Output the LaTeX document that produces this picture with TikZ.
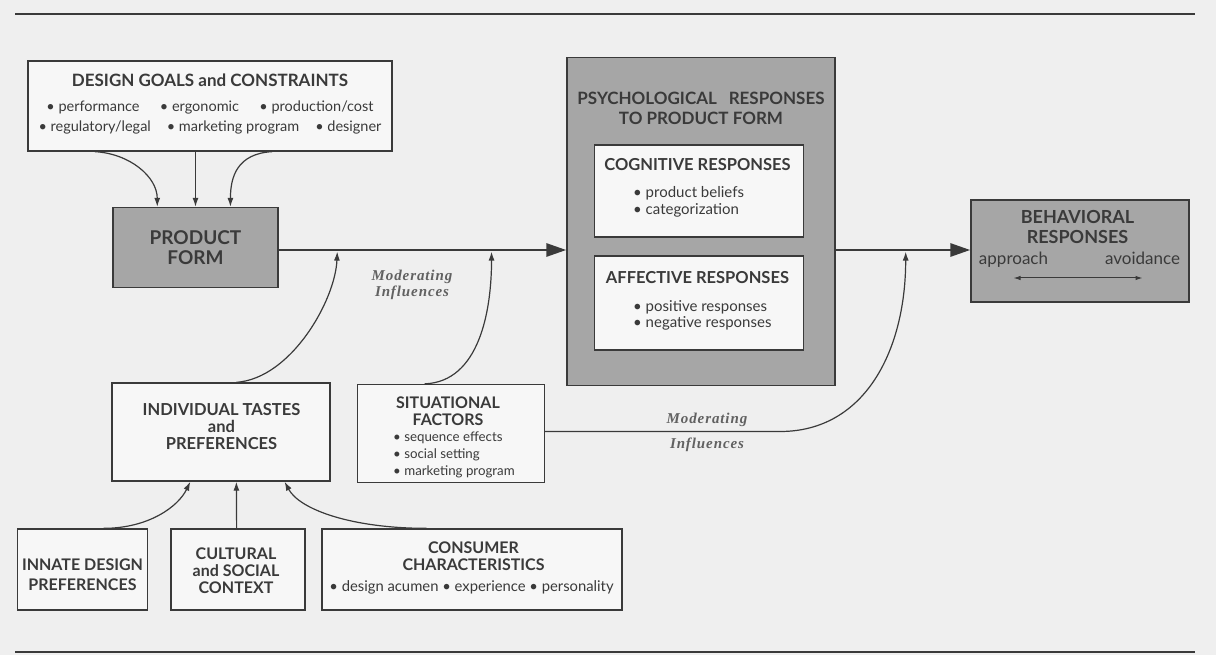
\documentclass[tikz,border=0pt]{standalone}
\usepackage{fontspec}
\setmainfont{Lato}
\newfontfamily\modserif[LetterSpace=6]{Liberation Serif}
\usetikzlibrary{arrows.meta,calc}

\definecolor{paper}{HTML}{EFEFEF}
\definecolor{ink}{HTML}{3A3A3A}
\definecolor{shade}{HTML}{A6A6A6}
\definecolor{pale}{HTML}{F7F7F7}

% type sizes: \sz{size}{baselineskip}
\newcommand\sz[2]{\fontsize{#1}{#2}\selectfont}
\newcommand\modtxt{\modserif\bfseries\itshape\sz{15}{17}}

\tikzset{
  box/.style={draw=ink, line width=1.3pt, inner sep=0pt},
  palebox/.style={box, fill=pale},
  shadebox/.style={box, fill=shade},
  txt/.style={text=ink, inner sep=0pt, align=center},
  ltxt/.style={text=ink, inner sep=0pt, align=left},
  flow/.style={draw=ink, line width=2.8pt, -{Triangle[length=20pt,width=13pt]}},
  link/.style={draw=ink, line width=1.2pt, -{Latex[length=9pt,width=6pt]}},
  twoway/.style={draw=ink, line width=1pt, {Latex[length=7pt,width=4.5pt]}-{Latex[length=7pt,width=4.5pt]}},
  rule/.style={draw=ink, line width=2.5pt},
  modlabel/.style={text=ink!80, font=\modtxt, align=center, inner sep=0pt},
}

\begin{document}
\begin{tikzpicture}[x=1pt,y=-1pt]
\useasboundingbox[fill=paper] (0,0) rectangle (1216,655);

% page rules
\coordinate (topL) at (15,14);   \coordinate (topR) at (1195,14);
\coordinate (botL) at (15,652);  \coordinate (botR) at (1195,652);
\draw[rule] (topL) -- (topR);
\draw[rule] (botL) -- (botR);

% design goals and constraints
\node[palebox, minimum width=364pt, minimum height=90pt] (goals) at (210,106) {};
\node[txt, anchor=north, font=\sz{14.5}{20}] (goalsText) at (210,73.5)
  {{\sz{17}{20}\bfseries DESIGN GOALS and CONSTRAINTS}\\[4.7pt]
   • performance\hspace{1.4em}• ergonomic\hspace{1.4em}• production/cost\\
   • regulatory/legal\hspace{1.1em}• marketing program\hspace{1.1em}• designer};

% product form
\node[shadebox, minimum width=165pt, minimum height=80pt, txt, font=\sz{19}{20}\bfseries]
  (pf) at (195.5,247.5) {PRODUCT\\FORM};

% psychological responses
\node[shadebox, minimum width=268pt, minimum height=328pt] (psych) at (701,221.5) {};
\node[txt, anchor=north, font=\sz{17}{20}\bfseries] (psychTitle) at (701,92)
  {PSYCHOLOGICAL\hspace{0.7em}RESPONSES\\TO PRODUCT FORM};

\node[palebox, minimum width=209pt, minimum height=92pt] (cog) at (699,191) {};
\node[txt, anchor=base, font=\sz{16.5}{17}\bfseries] (cogTitle) at (697.5,170.9)
  {COGNITIVE RESPONSES};
\node[ltxt, anchor=north west, font=\sz{15}{17}] (cogItems) at (633,185.8)
  {• product beliefs\\• categorization};

\node[palebox, minimum width=209pt, minimum height=94pt] (aff) at (699,303) {};
\node[txt, anchor=base, font=\sz{16.5}{17}\bfseries] (affTitle) at (697.5,283.9)
  {AFFECTIVE RESPONSES};
\node[ltxt, anchor=north west, font=\sz{15}{16}] (affItems) at (633,300.8)
  {• positive responses\\• negative responses};

% behavioral responses
\node[shadebox, minimum width=218pt, minimum height=102pt] (beh) at (1080,251) {};
\node[txt, anchor=north, font=\sz{18}{20}\bfseries] (behTitle) at (1077.5,210)
  {BEHAVIORAL\\RESPONSES};
\node[txt, anchor=base, font=\sz{17}{20}] (appr) at (1013.5,264.3) {approach};
\node[txt, anchor=base, font=\sz{17}{20}] (avoid) at (1142.5,264.3) {avoidance};
\draw[twoway] ([yshift=-13.7pt]appr.base) -- ([yshift=-13.7pt]avoid.base);

% individual tastes and situational factors
\node[palebox, minimum width=218pt, minimum height=98pt] (tastes) at (221,432) {};
\node[txt, anchor=north, font=\sz{16.5}{17}\bfseries] (tastesText) at (221.5,403)
  {INDIVIDUAL TASTES\\and\\PREFERENCES};

\node[palebox, minimum width=187pt, minimum height=98pt] (situ) at (451,433.5) {};
\node[txt, anchor=north, font=\sz{16}{17}\bfseries] (situTitle) at (448,396.7)
  {SITUATIONAL\\FACTORS};
\node[ltxt, anchor=north west, font=\sz{13.3}{17}] (situItems) at (393,431.6)
  {• sequence effects\\• social setting\\• marketing program};

% origins of individual tastes
\node[palebox, minimum width=130pt, minimum height=81pt] (innate) at (82.5,569.5) {};
\node[txt, anchor=north, font=\sz{16}{20}\bfseries] (innateText) at (82.5,558.2)
  {INNATE DESIGN\\PREFERENCES};

\node[palebox, minimum width=134pt, minimum height=81pt] (cultural) at (238,569.5) {};
\node[txt, anchor=north, font=\sz{16}{17}\bfseries] (culturalText) at (236,547.2)
  {CULTURAL\\and SOCIAL\\CONTEXT};

\node[palebox, minimum width=300pt, minimum height=81pt] (consumer) at (472,569.5) {};
\node[txt, anchor=north, font=\sz{16}{17}\bfseries] (consumerTitle) at (473.5,541.2)
  {CONSUMER\\CHARACTERISTICS};
\node[txt, anchor=base, font=\sz{14.8}{17}] (consumerItems) at (471.5,591.9)
  {• design acumen • experience • personality};

% labels for the moderating paths
\node[modlabel] (mod1) at (412,284.5) {Moderating\\[-1pt]Influences};
\node[modlabel] (mod2) at (707,432.5) {Moderating\\[8pt]Influences};

% design goals feed the product form
\draw[link] ($(goals.south west)!0.185!(goals.south east)$) .. controls +(35,2) and +(0,-30) ..
  ($(pf.north west)!0.27!(pf.north east)$);
\draw[link] (pf.north |- goals.south) -- (pf.north);
\draw[link] ($(goals.south west)!0.67!(goals.south east)$) .. controls +(-35,2) and +(0,-30) ..
  ($(pf.north west)!0.71!(pf.north east)$);

% main flow
\coordinate (flowA) at ([yshift=-2.5pt]pf.east);
\draw[flow] (flowA) -- (flowA -| psych.west);
\draw[flow] (flowA -| psych.east) -- (flowA -| beh.west);

\coordinate (hit1) at ($(flowA)!0.204!(flowA -| psych.west)$);
\coordinate (hit2) at ($(flowA)!0.74!(flowA -| psych.west)$);
\coordinate (hit3) at ($(flowA -| psych.east)!0.52!(flowA -| beh.west)$);

% moderating influences
\draw[link, shorten >=1.6pt] ($(tastes.north west)!0.57!(tastes.north east)$)
  .. controls +(55,-4) and +(-2,50) .. (hit1);
\draw[link, shorten >=1.6pt] ($(situ.north west)!0.36!(situ.north east)$)
  .. controls +(55,-2) and +(0,60) .. (hit2);
\draw[link, shorten >=1.6pt] ([yshift=2pt]situ.east) -- ++(235,0)
  .. controls +(85,0) and +(0,100) .. (hit3);

% sources of individual tastes
\draw[link] ($(innate.north west)!0.66!(innate.north east)$) .. controls +(45,0) and +(-12,25) ..
  ($(tastes.south west)!0.36!(tastes.south east)$);
\draw[link] ($(cultural.north west)!0.49!(cultural.north east)$) -- ($(tastes.south west)!0.57!(tastes.south east)$);
\draw[link] ($(consumer.north west)!0.35!(consumer.north east)$) .. controls +(-75,0) and +(15,28) ..
  ($(tastes.south west)!0.79!(tastes.south east)$);
\end{tikzpicture}
\end{document}
